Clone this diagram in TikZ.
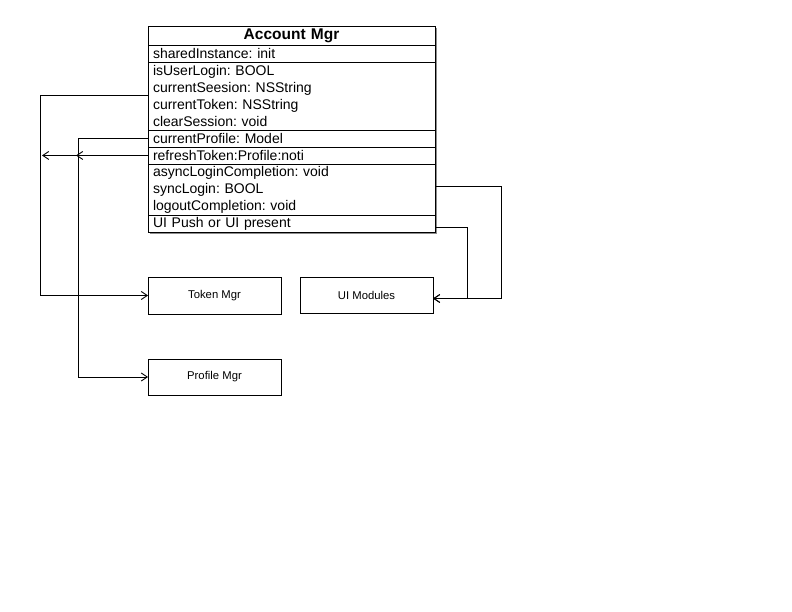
\documentclass[tikz,border=0pt]{standalone}
\usepackage{fontspec}
\setmainfont{Liberation Sans}
\usetikzlibrary{arrows.meta, positioning, backgrounds}

\begin{document}
\begin{tikzpicture}[
    x=1pt, y=-1pt,
    member/.style={rectangle, draw=black, fill=white, line width=0.9pt, outer sep=0pt, minimum width=287pt, text width=277pt, inner xsep=5pt, inner ysep=0pt, align=left, font=\fontsize{14}{17}\selectfont\frenchspacing},
    module/.style={rectangle, draw=black, fill=white, line width=0.9pt, outer sep=0pt, minimum width=133pt, minimum height=37pt, font=\fontsize{11.3}{13}\selectfont},
    arrow/.style={-{Straight Barb[length=6pt, width=8pt]}, line width=0.9pt}
]
\useasboundingbox (0,0) rectangle (792,612);

\node[member, anchor=north west, minimum height=19pt, align=center, font=\fontsize{15.5}{17}\selectfont\bfseries] (acct) at (148,26) {Account Mgr};
\node[member, below=0pt of acct, minimum height=17pt] (shared) {sharedInstance: init};
\node[member, below=0pt of shared, minimum height=68pt] (login) {isUserLogin: BOOL\\currentSeesion: NSString\\currentToken: NSString\\clearSession: void};
\node[member, below=0pt of login, minimum height=17pt] (profile) {currentProfile: Model};
\node[member, below=0pt of profile, minimum height=17pt] (refresh) {refreshToken:Profile:noti};
\node[member, below=0pt of refresh, minimum height=51pt] (async) {asyncLoginCompletion: void\\syncLogin: BOOL\\logoutCompletion: void};
\node[member, below=0pt of async, minimum height=17pt] (uipush) {UI Push or UI present};

\begin{scope}[on background layer]
\fill[black!45] ([shift={(2pt,-2pt)}]acct.north west) rectangle ([shift={(2pt,-2pt)}]uipush.south east);
\end{scope}

\node[module, below=45pt of uipush.south west, anchor=north west] (token) {Token Mgr};
\node[module, right=19pt of token, minimum height=36pt] (uimod) {UI Modules};
\node[module, below=45pt of token, minimum height=36pt] (profmgr) {Profile Mgr};

\coordinate (tokenNoti) at ([xshift=-106pt]refresh.west);
\coordinate (profNoti) at ([xshift=-72pt]refresh.west);

\draw[arrow] ([yshift=1pt]login.west) -- ++(-108,0) |- (token.west);
\draw[arrow] (profile.west) -- ++(-70,0) |- (profmgr.west);
\draw[arrow] (refresh.west) -- (tokenNoti);
\draw[arrow] (refresh.west) -- (profNoti);
\draw[arrow] ([yshift=3.5pt]async.east) -- ++(66,0) |- ([yshift=-3pt]uimod.east);
\draw[arrow] ([yshift=-3.5pt]uipush.east) -- ++(32,0) |- ([yshift=-3pt]uimod.east);

\end{tikzpicture}
\end{document}
